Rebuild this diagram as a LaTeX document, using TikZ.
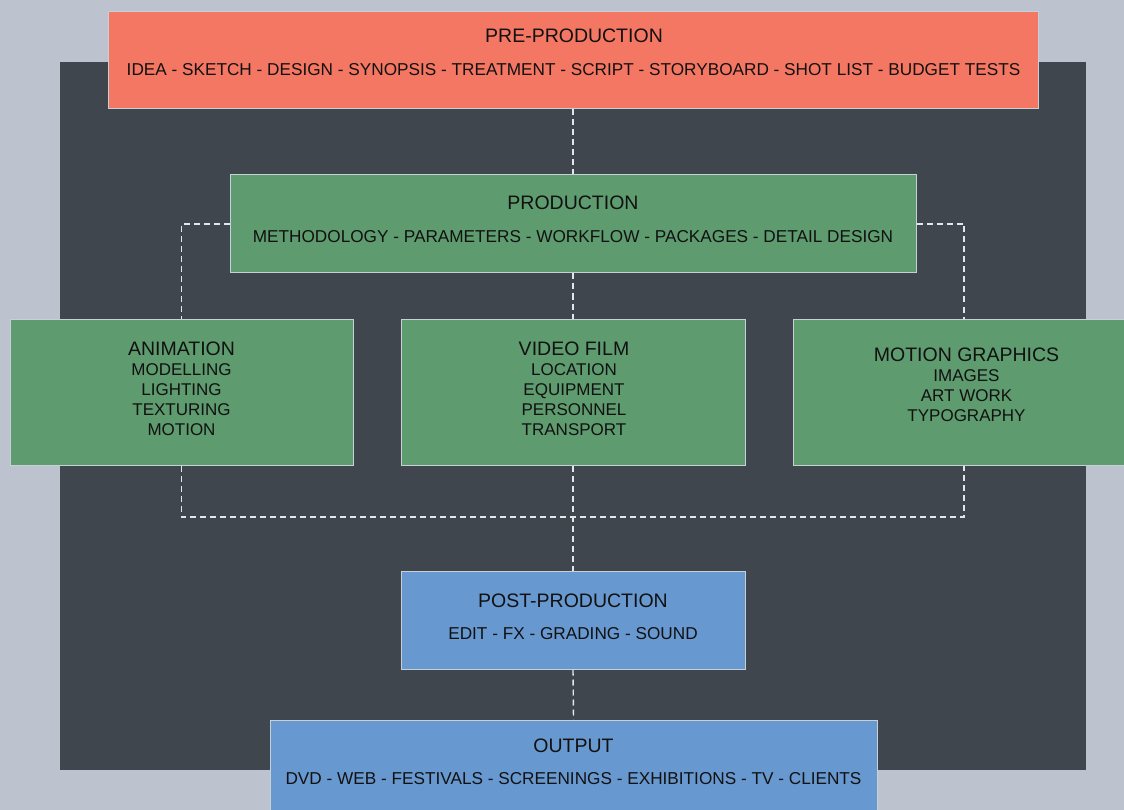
\documentclass[tikz,border=0pt]{standalone}
\usepackage{fontspec}
\setmainfont{Liberation Sans}
\definecolor{bgc}{HTML}{BCC3CE}
\definecolor{darkc}{HTML}{3F464D}
\definecolor{salmon}{HTML}{F47763}
\definecolor{greenc}{HTML}{5E9B6F}
\definecolor{bluec}{HTML}{6898D0}
\definecolor{edgec}{HTML}{C9CFD6}
\definecolor{txt}{HTML}{111111}
\definecolor{dashc}{HTML}{E4E6EA}
\tikzset{
  box/.style={draw=edgec, line width=1pt, rectangle, inner sep=0pt},
  title/.style={text=txt, font=\fontsize{19.5}{22}\selectfont, inner sep=0pt},
  sub/.style={text=txt, font=\fontsize{17.2}{20}\selectfont, inner sep=0pt},
  items/.style={text=txt, font=\fontsize{17}{20}\selectfont, inner sep=0pt, align=center, anchor=north},
  conn/.style={draw=dashc, line width=1.4pt, dash pattern=on 6pt off 4pt}
}
\begin{document}
\begin{tikzpicture}[x=1pt,y=-1pt]
\useasboundingbox (0,0) rectangle (1124,810);
\clip (0,0) rectangle (1124,810);
\fill[bgc] (0,0) rectangle (1124,810);
\fill[darkc] (60,62) rectangle (1086,770);
\coordinate (jb) at (573,517);
% boxes
\node[box, fill=salmon, minimum width=930pt, minimum height=97pt] (pre) at (573,60) {};
\node[box, fill=greenc, minimum width=686pt, minimum height=98pt] (prod) at (573,224) {};
\node[box, fill=greenc, minimum width=343pt, minimum height=146pt] (anim) at (181.5,392) {};
\node[box, fill=greenc, minimum width=344pt, minimum height=146pt] (vf) at (573,392) {};
\node[box, fill=greenc, minimum width=342pt, minimum height=146pt] (mg) at (964,392) {};
\node[box, fill=bluec, minimum width=344pt, minimum height=98pt] (post) at (573,620) {};
\node[box, fill=bluec, minimum width=607pt, minimum height=110pt] (out) at (573.5,775) {};
% connectors
\draw[conn] (pre.south) -- (prod.north);
\draw[conn] (prod.south) -- (vf.north);
\draw[conn] (prod.west) -| (anim.north);
\draw[conn] (prod.east) -| (mg.north);
\draw[conn] (anim.south) |- (jb) -| (mg.south);
\draw[conn] (vf.south) -- (post.north);
\draw[conn] (post.south) -- (out.north);
% texts
\node[title] (preT) at (574,36) {PRE-PRODUCTION};
\node[sub] (preS) at (573.5,70) {IDEA - SKETCH - DESIGN - SYNOPSIS - TREATMENT - SCRIPT - STORYBOARD - SHOT LIST - BUDGET TESTS};
\node[title] (prodT) at (573,203) {PRODUCTION};
\node[sub] (prodS) at (573,237) {METHODOLOGY - PARAMETERS - WORKFLOW - PACKAGES - DETAIL DESIGN};
\node[title] (animT) at (181.5,349) {ANIMATION};
\node[items] (animS) at (181.5,363) {MODELLING\\LIGHTING\\TEXTURING\\MOTION};
\node[title] (vfT) at (574,349) {VIDEO FILM};
\node[items] (vfS) at (574,363) {LOCATION\\EQUIPMENT\\PERSONNEL\\TRANSPORT};
\node[title] (mgT) at (966.5,355) {MOTION GRAPHICS};
\node[items] (mgS) at (966.5,369) {IMAGES\\ART WORK\\TYPOGRAPHY};
\node[title] (postT) at (573,601) {POST-PRODUCTION};
\node[sub] (postS) at (573,634) {EDIT - FX - GRADING - SOUND};
\node[title] (outT) at (573.5,746) {OUTPUT};
\node[sub] (outS) at (573.5,779) {DVD - WEB - FESTIVALS - SCREENINGS - EXHIBITIONS - TV - CLIENTS};
\end{tikzpicture}
\end{document}
